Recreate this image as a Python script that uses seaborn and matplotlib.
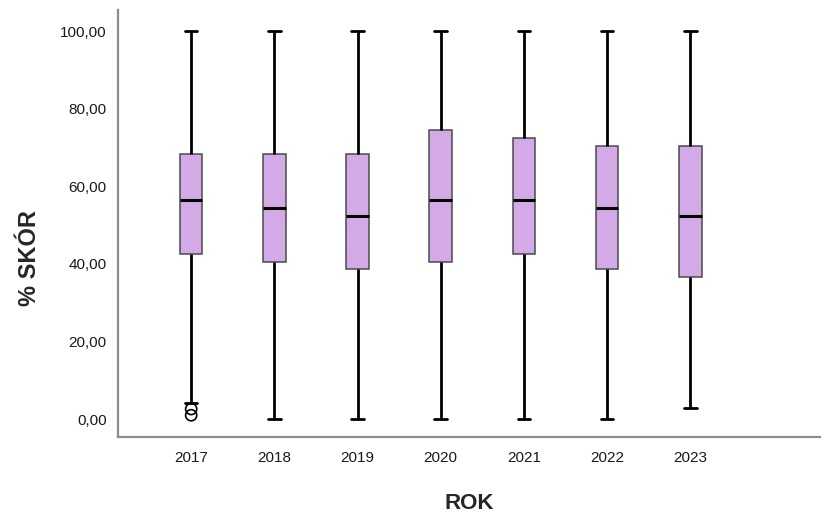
import numpy as np
import pandas as pd
import matplotlib
matplotlib.use("Agg")
import matplotlib.pyplot as plt
import seaborn as sns

# box summary per year
years = ["2017", "2018", "2019", "2020", "2021", "2022", "2023"]
whisker_low = [4.1, 0.0, 0.0, 0.0, 0.0, 0.0, 2.8]
q1 = [42.5, 40.5, 38.7, 40.5, 42.5, 38.7, 36.6]
median = [56.4, 54.4, 52.3, 56.4, 56.4, 54.4, 52.3]
q3 = [68.3, 68.3, 68.3, 74.5, 72.4, 70.4, 70.4]
whisker_high = [100.0, 100.0, 100.0, 100.0, 100.0, 100.0, 100.0]

outlier_years = ["2017", "2017"]
outlier_values = [2.6, 1.0]

# five points per year -> quartiles fall exactly on q1 / median / q3
rows = []
for i, yr in enumerate(years):
    for v in [whisker_low[i], q1[i], median[i], q3[i], whisker_high[i]]:
        rows.append({"ROK": yr, "SKOR": v})
df = pd.DataFrame(rows)

sns.set_style("white")
plt.rcParams["font.family"] = ["Liberation Sans", "DejaVu Sans"]

fig = plt.figure(figsize=(8.25, 5.15), dpi=100)
ax = fig.add_axes([0.143, 0.1515, 0.851, 0.829])

sns.boxplot(data=df, x="ROK", y="SKOR", order=years, whis=np.inf,
            width=0.27, color="#D3A9E7", saturation=1, ax=ax,
            boxprops=dict(edgecolor="#4a4a4a", linewidth=1.1),
            medianprops=dict(color="black", linewidth=2.2),
            whiskerprops=dict(color="black", linewidth=2),
            capprops=dict(color="black", linewidth=2),
            capwidths=0.15)

sns.stripplot(x=outlier_years, y=outlier_values, order=years, jitter=False,
              marker="o", s=8, facecolor="none", edgecolor="black",
              linewidth=1.2, ax=ax, zorder=5)

ax.set_ylim(-4.6, 105.4)
ax.set_xlim(-0.88, 7.56)
ax.set_yticks([0, 20, 40, 60, 80, 100])
ax.set_yticklabels(["0,00", "20,00", "40,00", "60,00", "80,00", "100,00"])
ax.tick_params(axis="both", length=0, labelsize=11, colors="#1a1a1a")
ax.tick_params(axis="y", pad=8)
ax.tick_params(axis="x", pad=10)

ax.set_xlabel("ROK", fontsize=16, fontweight="bold", labelpad=20)
ax.set_ylabel("% SKÓR", fontsize=17, fontweight="bold", labelpad=12)
ax.yaxis.set_label_coords(-0.11, 0.42)

for side in ["top", "right"]:
    ax.spines[side].set_visible(False)
for side in ["left", "bottom"]:
    ax.spines[side].set_color("#8c8c8c")
    ax.spines[side].set_linewidth(1.6)

fig.savefig("out.png", dpi=100)
